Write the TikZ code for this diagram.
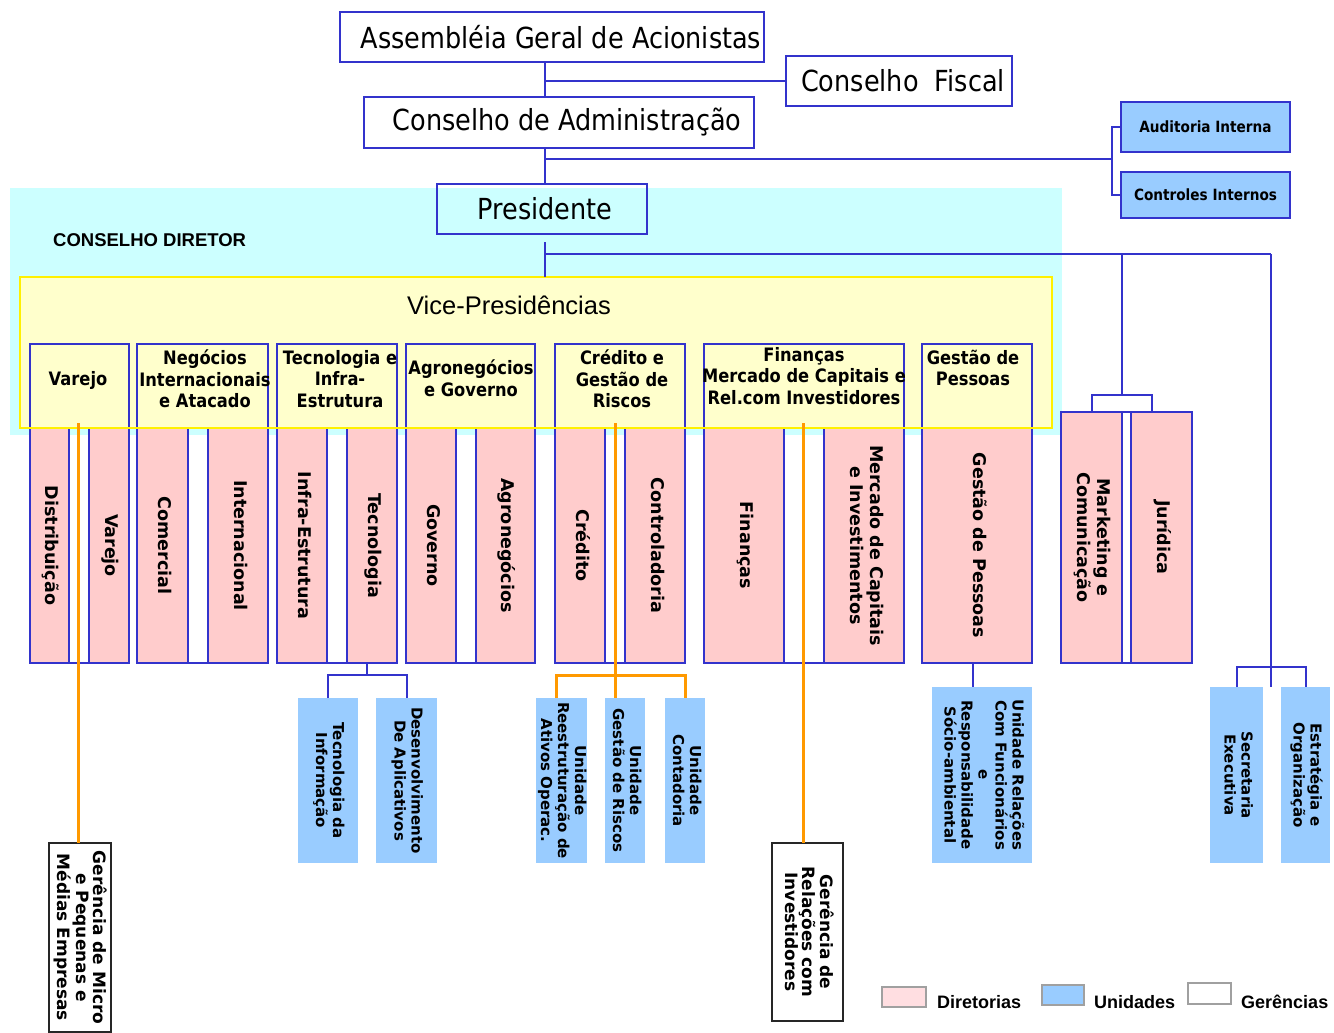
\documentclass[tikz,border=0pt]{standalone}
\usepackage{fontspec}
\usepackage{graphicx}
\setmainfont{DejaVu Sans}
\newfontfamily\condf[FakeStretch=0.88]{DejaVu Sans}
\newfontfamily\arialf{Liberation Sans}
\usetikzlibrary{calc}

\definecolor{bblue}{RGB}{51,51,204}
\definecolor{cyanbg}{RGB}{204,255,255}
\definecolor{yelbg}{RGB}{255,255,204}
\definecolor{yelline}{RGB}{255,240,0}
\definecolor{pinkf}{RGB}{255,204,204}
\definecolor{ublue}{RGB}{153,204,255}
\definecolor{orng}{RGB}{255,153,0}
\definecolor{legpink}{RGB}{255,222,225}
\definecolor{leggray}{RGB}{160,160,160}

% vertical (top-to-bottom) multi-line label
\newcommand\vt[1]{\rotatebox{-90}{\begin{tabular}{@{}c@{}}#1\end{tabular}}}

\begin{document}
\begin{tikzpicture}[x=1pt,y=-1pt,
 bx/.style n args={4}{anchor=north west, at={(#1,#2)}, minimum width={(#3-#1)*1pt}, minimum height={(#4-#2)*1pt}, inner sep=0pt, outer sep=0pt},
 bline/.style={draw=bblue, line width=2pt},
 titlebox/.style={bline, font=\condf\fontsize{29}{32}\selectfont},
 auditbox/.style={bline, fill=ublue, font=\condf\bfseries\fontsize{15.5}{18}\selectfont},
 vptext/.style={font=\condf\bfseries\fontsize{18.5}{21.5}\selectfont, align=center, inner sep=0pt},
 dirbox/.style={bline, fill=pinkf, font=\bfseries\fontsize{17.5}{20}\selectfont},
 unitbox/.style={fill=ublue, font=\bfseries\fontsize{15}{17}\selectfont},
 gerbox/.style={draw=black!85, line width=2pt, fill=white, font=\bfseries\fontsize{17}{15.5}\selectfont},
 conn/.style={draw=bblue, line width=2pt},
 oconn/.style={draw=orng, line width=3pt},
 legbox/.style={draw=leggray, line width=1.5pt},
 legtext/.style={anchor=west, font=\arialf\bfseries\fontsize{18}{20}\selectfont, inner sep=0pt},
]
\useasboundingbox (0,0) rectangle (1334,1033);
\fill[white] (0,0) rectangle (1334,1033);

% board of directors band
\node[bx={10}{188}{1062}{435}, fill=cyanbg] (cd) {};
\node[anchor=west, inner sep=0pt, font=\arialf\bfseries\fontsize{18.5}{20}\selectfont] (cdlabel) at (53,240) {CONSELHO DIRETOR};

% vice-presidencies area
\node[bx={20}{277}{1052}{428}, fill=yelbg] (vp) {};
\node[inner sep=0pt, font=\arialf\fontsize{25.5}{28}\selectfont] (vptitle) at (509,305) {Vice-Presidências};

% vice-presidency headers
\node[bx={30}{344}{129}{428}, bline] (vh1) {};
\node[bx={137}{344}{268}{428}, bline] (vh2) {};
\node[bx={277}{344}{397}{428}, bline] (vh3) {};
\node[bx={406}{344}{535}{428}, bline] (vh4) {};
\node[bx={555}{344}{685}{428}, bline] (vh5) {};
\node[bx={704}{344}{904}{428}, bline] (vh6) {};
\node[bx={922}{344}{1032}{428}, bline] (vh7) {};
\node[vptext] (vh1t) at (78,380) {Varejo};
\node[vptext] (vh2t) at (205,379) {Negócios\\Internacionais\\e Atacado};
\node[vptext] (vh3t) at (340,379) {Tecnologia e\\Infra-\\Estrutura};
\node[vptext] (vh4t) at (471,378) {Agronegócios\\e Governo};
\node[vptext] (vh5t) at (622,379) {Crédito e\\Gestão de\\Riscos};
\node[vptext] (vh6t) at (804,376) {Finanças\\Mercado de Capitais e\\Rel.com Investidores};
\node[vptext] (vh7t) at (973,368) {Gestão de\\Pessoas};

% directorates
\node[bx={30}{428}{69}{663}, dirbox] (p1a) {\vt{Distribuição}};
\node[bx={89}{428}{129}{663}, dirbox] (p1b) {\vt{Varejo}};
\node[bx={137}{428}{188}{663}, dirbox] (p2a) {\vt{Comercial}};
\node[bx={208}{428}{268}{663}, dirbox] (p2b) {\vt{Internacional}};
\node[bx={277}{428}{327}{663}, dirbox] (p3a) {\vt{Infra-Estrutura}};
\node[bx={347}{428}{397}{663}, dirbox] (p3b) {\vt{Tecnologia}};
\node[bx={406}{428}{456}{663}, dirbox] (p4a) {\vt{Governo}};
\node[bx={476}{428}{535}{663}, dirbox] (p4b) {\vt{Agronegócios}};
\node[bx={555}{428}{605}{663}, dirbox] (p5a) {\vt{Crédito}};
\node[bx={625}{428}{685}{663}, dirbox] (p5b) {\vt{Controladoria}};
\node[bx={704}{428}{784}{663}, dirbox] (p6a) {\vt{Finanças}};
\node[bx={824}{428}{904}{663}, dirbox] (p6b) {\vt{Mercado de Capitais\\e Investimentos}};
\node[bx={922}{428}{1032}{663}, dirbox] (p7) {\vt{Gestão de Pessoas}};
\node[bx={1061}{412}{1122}{663}, dirbox] (mkt) {\vt{Marketing e\\Comunicação}};
\node[bx={1131}{412}{1192}{663}, dirbox] (jur) {\vt{Jurídica}};

% frame closings across the gaps
\draw[conn] (p1a.south east) -- (p1b.south west);
\draw[conn] (p2a.south east) -- (p2b.south west);
\draw[conn] (p3a.south east) -- (p3b.south west);
\draw[conn] (p4a.south east) -- (p4b.south west);
\draw[conn] (p5a.south east) -- (p5b.south west);
\draw[conn] (p6a.south east) -- (p6b.south west);
\draw[conn] (mkt.south east) -- (jur.south west);
\draw[conn] (mkt.north east) -- (jur.north west);

% yellow outline on top
\draw[yelline, line width=2.5pt] (vp.north west) rectangle (vp.south east);

% governance boxes
\node[bx={340}{12}{764}{62}, titlebox, fill=white] (asm) {\hspace*{18pt}Assembléia Geral de Acionistas};
\node[bx={786}{56}{1012}{106}, titlebox, fill=white] (fis) {\hspace*{8pt}Conselho\ \ Fiscal};
\node[bx={364}{97}{754}{148}, titlebox, fill=white] (adm) {\hspace*{16pt}Conselho de Administração};
\node[bx={437}{184}{647}{234}, titlebox] (pres) {\hspace*{6pt}Presidente};
\node[bx={1121}{102}{1290}{152}, auditbox] (aud) {Auditoria Interna};
\node[bx={1121}{172}{1290}{218}, auditbox] (ctl) {Controles Internos};

% governance connectors
\coordinate (spine) at (545,0);
\draw[conn] (spine |- asm.south) -- (spine |- adm.north);
\draw[conn] (spine |- fis.west) -- (fis.west);
\draw[conn] (spine |- adm.south) -- (spine |- pres.north);
\coordinate (aj) at (1112,159);
\draw[conn] (545,159) -- (aj);
\draw[conn] (aud.west) -| (aj) |- (ctl.west);

% president connectors
\coordinate (pst) at (545,242);
\coordinate (pj) at (545,254);
\coordinate (mj) at (1122,254);
\coordinate (sj) at (1271,254);
\coordinate (mb) at (1122,395);
\coordinate (sb) at (1271,667);
\draw[conn] (pst) -- (spine |- vp.north);
\draw[conn] (pj) -- (sj);
\draw[conn] (mj) -- (mb);
\draw[conn] (mkt.north) |- (mb) -| ([xshift=-10pt]jur.north);

% units
\node[bx={298}{698}{358}{863}, unitbox] (ti) {\vt{Tecnologia da\\Informação}};
\node[bx={376}{698}{437}{863}, unitbox] (dev) {\vt{Desenvolvimento\\De Aplicativos}};
\node[bx={536}{698}{586}{863}, unitbox] (rees) {\vt{Unidade\\Reestruturação de\\Ativos Operac.}};
\node[bx={605}{698}{645}{863}, unitbox] (ris) {\vt{Unidade\\Gestão de Riscos}};
\node[bx={665}{698}{705}{863}, unitbox] (cont) {\vt{Unidade\\Contadoria}};
\node[bx={932}{687}{1032}{863}, unitbox] (urel) {\vt{Unidade Relações\\Com Funcionários\\e\\Responsabilidade\\Sócio-ambiental}};
\node[bx={1210}{687}{1263}{863}, unitbox] (sec) {\vt{Secretaria\\Executiva}};
\node[bx={1281}{687}{1330}{863}, unitbox] (est) {\vt{Estratégia e\\Organização}};

\draw[conn] (sj) -- (sb) -- (sb |- sec.north);
\draw[conn] (sec.north) |- (sb) -| (est.north);

\coordinate (tb) at (367,675);
\draw[conn] (tb |- p3b.south) -- (tb);
\draw[conn] (ti.north) |- (tb) -| (dev.north);
\draw[conn] ([xshift=-4pt]p7.south) -- ([xshift=-4pt]p7.south |- urel.north);

% managements
\node[bx={49}{843}{111}{1032}, gerbox] (gmic) {\vt{Gerência de Micro\\e Pequenas e\\Médias Empresas}};
\node[bx={772}{843}{843}{1021}, gerbox] (gri) {\vt{Gerência de\\Relações com\\Investidores}};

% orange links
\coordinate (ov) at (78,423);
\coordinate (oc) at (615,423);
\coordinate (cb) at (615,675);
\coordinate (of) at (803,423);
\draw[oconn] (ov) -- (ov |- gmic.north);
\draw[oconn] (oc) -- (oc |- ris.north);
\draw[oconn] ([xshift=-5pt]rees.north) |- (cb) -| (cont.north);
\draw[oconn] (of) -- (of |- gri.north);

% legend
\node[bx={882}{987}{926}{1007}, legbox, fill=legpink] (lg1) {};
\node[legtext] (lg1t) at (937,1002) {Diretorias};
\node[bx={1042}{985}{1084}{1005}, legbox, fill=ublue] (lg2) {};
\node[legtext] (lg2t) at (1094,1002) {Unidades};
\node[bx={1188}{983}{1231}{1004}, legbox, fill=white] (lg3) {};
\node[legtext] (lg3t) at (1241,1002) {Gerências};
\end{tikzpicture}
\end{document}
